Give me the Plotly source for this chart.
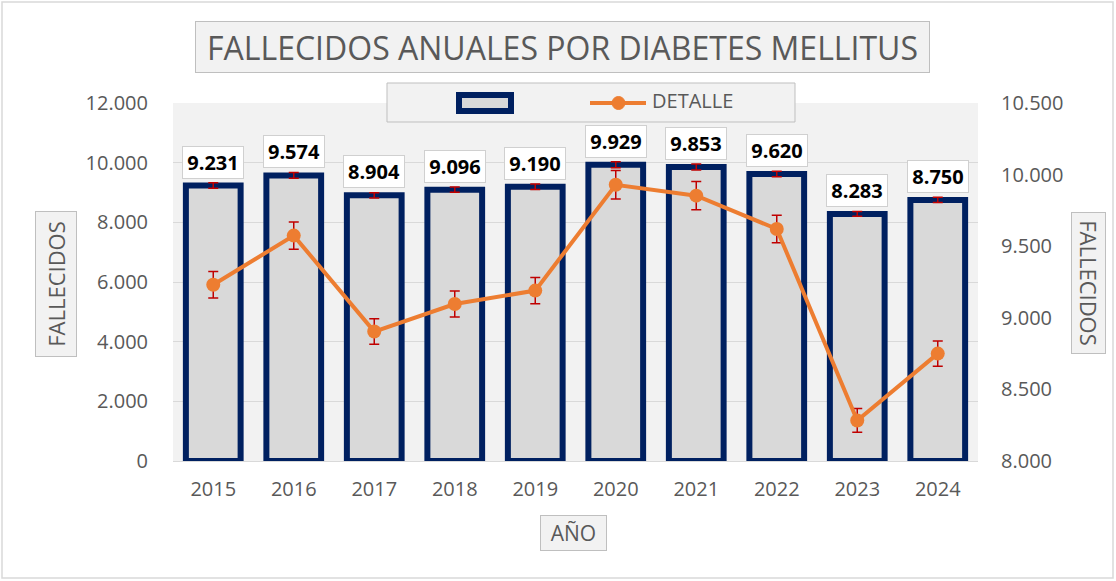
import plotly.graph_objects as go

years = ["2015", "2016", "2017", "2018", "2019", "2020", "2021", "2022", "2023", "2024"]
fallecidos = [9231, 9574, 8904, 9096, 9190, 9929, 9853, 9620, 8283, 8750]
detalle = [9231, 9574, 8904, 9096, 9190, 9929, 9853, 9620, 8283, 8750]
left_ticks = [0, 2000, 4000, 6000, 8000, 10000, 12000]
right_ticks = [8000, 8500, 9000, 9500, 10000, 10500]

FONT = "Open Sans"
GRAY_TXT = "#595959"
NAVY = "#002060"
ORANGE = "#ED7D31"
RED = "#C00000"

W, H = 1116, 581
ML, MR, MT, MB = 173, 138, 103, 120
PW = W - ML - MR
PH = H - MT - MB


def px(x):
    return (x - ML) / PW


def py(y):
    return (H - MB - y) / PH


def fmt(v):
    return f"{v:,}".replace(",", ".")


fig = go.Figure()
fig.add_trace(go.Bar(
    x=years, y=fallecidos, name=" ",
    marker=dict(color="#D9D9D9", line=dict(color=NAVY, width=6)),
    error_y=dict(type="percent", value=1, color=RED, thickness=1.5, width=5),
    yaxis="y", showlegend=False,
))
fig.add_trace(go.Scatter(
    x=years, y=detalle, name="DETALLE", mode="lines+markers",
    line=dict(color=ORANGE, width=4),
    marker=dict(color=ORANGE, size=14),
    error_y=dict(type="percent", value=1, color=RED, thickness=1.5, width=5),
    yaxis="y2", showlegend=False,
))

annotations = []
for i, v in enumerate(fallecidos):
    annotations.append(dict(
        x=i, y=v, xref="x", yref="y", text=f"<b>{fmt(v)}</b>",
        showarrow=False, yanchor="bottom", yshift=7,
        font=dict(family=FONT, size=20, color="#000000"),
        width=58, height=29,
        bgcolor="#FFFFFF", bordercolor="#D0D0D0", borderwidth=1, borderpad=1,
    ))

box = dict(bgcolor="#F2F2F2", bordercolor="#BFBFBF", borderwidth=1,
           showarrow=False, xref="paper", yref="paper",
           xanchor="center", yanchor="middle", borderpad=0)
# title
annotations.append(dict(
    box, x=px(562), y=py(47), width=733, height=50,
    text="FALLECIDOS ANUALES POR DIABETES MELLITUS",
    font=dict(family=FONT, size=32, color=GRAY_TXT),
))
# axis titles
annotations.append(dict(
    box, x=px(56), y=py(284), text="FALLECIDOS", textangle=-90, width=144, height=40,
    font=dict(family=FONT, size=22, color=GRAY_TXT),
))
annotations.append(dict(
    box, x=px(1089), y=py(283), text="FALLECIDOS", textangle=90, width=140, height=33,
    font=dict(family=FONT, size=22, color=GRAY_TXT),
))
annotations.append(dict(
    box, x=px(573), y=py(533), text="AÑO", width=65, height=34,
    font=dict(family=FONT, size=21, color=GRAY_TXT),
))
# legend text
annotations.append(dict(
    x=px(650), y=py(101), xref="paper", yref="paper",
    text="DETALLE", showarrow=False,
    font=dict(family=FONT, size=20, color=GRAY_TXT),
    xanchor="left", yanchor="middle",
))

shapes = [
    # outer border
    dict(type="rect", xref="paper", yref="paper", x0=px(2), x1=px(1113), y0=py(578), y1=py(2),
         line=dict(color="#D9D9D9", width=1.5), fillcolor="rgba(0,0,0,0)", layer="below"),
    # legend box
    dict(type="rect", xref="paper", yref="paper", x0=px(387), x1=px(795), y0=py(122), y1=py(83),
         line=dict(color="#BFBFBF", width=1), fillcolor="#F2F2F2", layer="above"),
    # legend bar symbol
    dict(type="rect", xref="paper", yref="paper", x0=px(459), x1=px(511), y0=py(111), y1=py(95),
         line=dict(color=NAVY, width=6), fillcolor="#D9D9D9", layer="above"),
    # legend line symbol
    dict(type="line", xref="paper", yref="paper", x0=px(590), x1=px(646), y0=py(103), y1=py(103),
         line=dict(color=ORANGE, width=4), layer="above"),
    dict(type="circle", xref="paper", yref="paper", x0=px(612), x1=px(625), y0=py(109.5), y1=py(96.5),
         line=dict(color=ORANGE, width=1), fillcolor=ORANGE, layer="above"),
]

fig.update_layout(
    width=W, height=H,
    margin=dict(l=ML, r=MR, t=MT, b=MB),
    paper_bgcolor="#FFFFFF", plot_bgcolor="#F2F2F2",
    separators=",.",
    bargap=0.32,
    showlegend=False,
    font=dict(family=FONT, color=GRAY_TXT),
    xaxis=dict(type="category", range=[-0.5, 9.5], autorange=False,
               tickfont=dict(size=20, color=GRAY_TXT), showgrid=False,
               showline=True, linecolor="#D9D9D9", ticks="", ticklabelstandoff=10),
    yaxis=dict(range=[0, 12000], autorange=False, tickvals=left_ticks, tickformat=",d",
               tickfont=dict(size=20, color=GRAY_TXT), gridcolor="#D9D9D9", gridwidth=1,
               zeroline=False, showline=False, ticklabelstandoff=24),
    yaxis2=dict(range=[8000, 10500], autorange=False, tickvals=right_ticks, tickformat=",d",
                overlaying="y", side="right", tickfont=dict(size=20, color=GRAY_TXT),
                showgrid=False, zeroline=False, showline=False, ticklabelstandoff=22),
    annotations=annotations,
    shapes=shapes,
)

fig.write_html("out.html", config={"displayModeBar": False},
               post_script="document.body.style.margin='0';")
